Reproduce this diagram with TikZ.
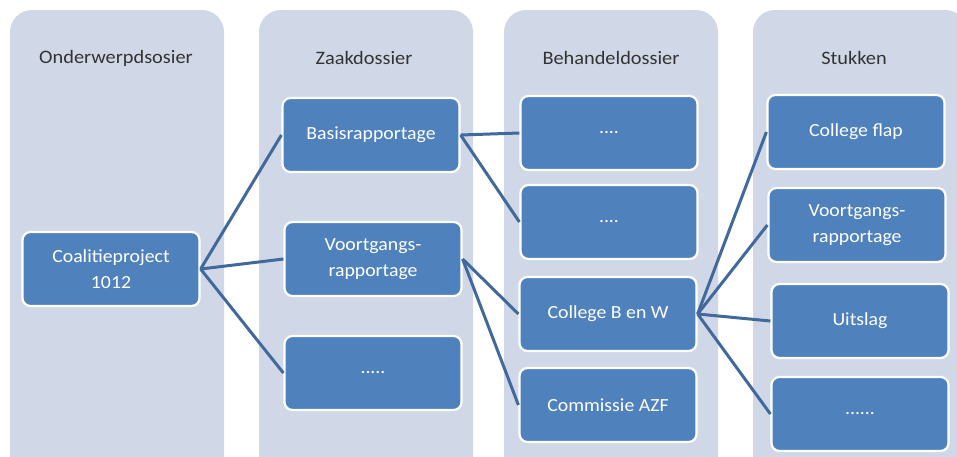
\documentclass[tikz,border=0pt]{standalone}
\usepackage{fontspec}
\setmainfont{Carlito}[FakeStretch=1.07]
\definecolor{colbg}{HTML}{D0D8E8}
\definecolor{boxfill}{HTML}{4F81BD}
\definecolor{linkc}{HTML}{41699C}
\definecolor{titlec}{HTML}{333333}
\tikzset{
  column/.style={fill=colbg, draw=none, rounded corners=22pt},
  box/.style={rectangle, fill=boxfill, draw=white, line width=2.2pt, rounded corners=8pt,
    minimum width=177pt, minimum height=74pt, inner sep=2pt, text=white, align=center,
    font=\fontsize{18.5}{26}\selectfont},
  coltitle/.style={text=titlec, font=\fontsize{19}{22}\selectfont},
  link/.style={draw=linkc, line width=3pt}
}
\begin{document}
\begin{tikzpicture}[x=1pt, y=-1pt]
\useasboundingbox (0,0) rectangle (957,456);
\clip (0,0) rectangle (957,456);
\fill[white] (0,0) rectangle (957,456);
% columns
\path[column] (10,10) rectangle (224,480);
\path[column] (259,10) rectangle (473,480);
\path[column] (504,10) rectangle (718,480);
\path[column] (753,10) rectangle (967,480);
% titles
\node[coltitle] (t1) at (116,58) {Onderwerpdsosier};
\node[coltitle] (t2) at (364,58) {Zaakdossier};
\node[coltitle] (t3) at (611,58) {Behandeldossier};
\node[coltitle] (t4) at (854,58) {Stukken};
% boxes
\node[box] (coal) at (111,269) {Coalitieproject\\1012};
\node[box] (basis) at (371,135) {Basisrapportage};
\node[box] (voort) at (373,259) {Voortgangs-\\rapportage};
\node[box] (z3) at (373,373) {.....};
\node[box] (b1) at (609,133) {....};
\node[box] (b2) at (609,222) {....};
\node[box] (bw) at (608,314) {College B en W};
\node[box] (azf) at (608,405) {Commissie AZF};
\node[box] (flap) at (856,132) {College flap};
\node[box] (s2) at (857,225) {Voortgangs-\\rapportage};
\node[box] (uit) at (860,321) {Uitslag};
\node[box] (s4) at (860,414) {......};
% links
\draw[link] (coal.east) -- (basis.west);
\draw[link] (coal.east) -- (voort.west);
\draw[link] (coal.east) -- (z3.west);
\draw[link] (basis.east) -- (b1.west);
\draw[link] (basis.east) -- (b2.west);
\draw[link] (voort.east) -- (bw.west);
\draw[link] (voort.east) -- (azf.west);
\draw[link] (bw.east) -- (flap.west);
\draw[link] (bw.east) -- (s2.west);
\draw[link] (bw.east) -- (uit.west);
\draw[link] (bw.east) -- (s4.west);
\end{tikzpicture}
\end{document}
